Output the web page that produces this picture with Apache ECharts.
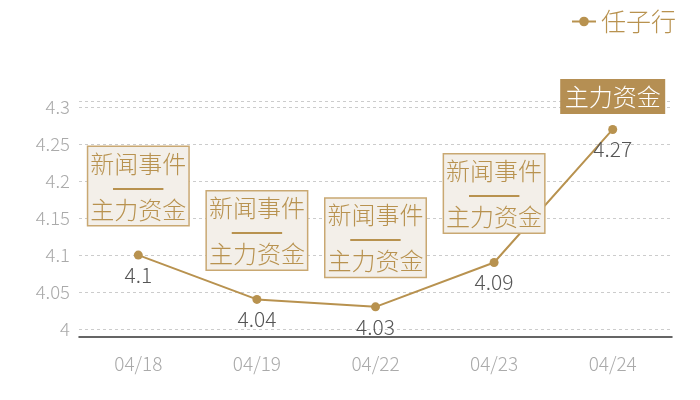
<!DOCTYPE html>
<html>
<head>
<meta charset="utf-8">
<script src="https://cdn.jsdelivr.net/npm/echarts@6/dist/echarts.min.js"></script>
<style>
  html, body { margin: 0; padding: 0; background: #fff; }
  #main { width: 700px; height: 400px; }
</style>
</head>
<body>
<div id="main"></div>
<script>
// 数据
var dates = ['04/18', '04/19', '04/22', '04/23', '04/24'];
var prices = [4.1, 4.04, 4.03, 4.09, 4.27];
var notes = ['新闻事件|主力资金', '新闻事件|主力资金', '新闻事件|主力资金', '新闻事件|主力资金', '主力资金'];
var seriesName = '任子行';

var gold = '#b8924f';
var font = 'Noto Sans CJK SC';

var myChart = echarts.init(document.getElementById('main'));

// 标注框
var marks = prices.map(function (v, i) {
    var parts = notes[i].split('|');
    var single = parts.length === 1;
    return {
        coord: [i, v],
        value: single ? parts[0] : '{t|' + parts[0] + '}\n{d|———}\n{t|' + parts[1] + '}',
        label: single ? {
            distance: 17,
            color: '#fff',
            backgroundColor: '#b58f53',
            borderColor: '#b58f53',
            padding: [5, 3, 4, 3]
        } : {}
    };
});

var option = {
    animation: false,
    textStyle: { fontFamily: font },
    legend: {
        right: 19,
        top: 4,
        itemWidth: 24,
        itemHeight: 12,
        itemGap: 6,
        data: [seriesName],
        textStyle: { color: gold, fontSize: 25, fontFamily: font, fontWeight: 300 }
    },
    grid: { left: 79, right: 28, top: 101, bottom: 71 },
    xAxis: {
        type: 'category',
        data: dates,
        offset: 8,
        axisLine: { lineStyle: { color: '#333', width: 1.5 } },
        axisTick: { show: false },
        axisLabel: { color: '#aaa', fontSize: 19, margin: 17, fontFamily: font, fontWeight: 300 }
    },
    yAxis: {
        type: 'value',
        min: 4,
        max: 4.3085,
        interval: 0.05,
        axisLine: { show: false },
        axisTick: { show: false },
        axisLabel: {
            color: '#aaa', fontSize: 18.5, margin: 9, fontFamily: font, fontWeight: 300,
            formatter: function (v) {
                if (Math.abs(v * 20 - Math.round(v * 20)) > 1e-6) return '';
                return String(Math.round(v * 100) / 100);
            }
        },
        splitLine: { lineStyle: { color: '#ccc', type: [3, 3] } }
    },
    series: [{
        name: seriesName,
        type: 'line',
        data: prices,
        symbol: 'circle',
        symbolSize: 9,
        itemStyle: { color: gold },
        lineStyle: { color: gold, width: 2 },
        label: {
            show: true,
            position: 'bottom',
            distance: 5,
            color: '#555',
            fontSize: 21,
            fontFamily: font,
            fontWeight: 300
        },
        markPoint: {
            symbol: 'circle',
            symbolSize: 0,
            data: marks,
            label: {
                show: true,
                position: 'top',
                distance: 30,
                formatter: '{c}',
                color: '#b8924f',
                fontSize: 24,
                lineHeight: 23,
                fontFamily: font,
                fontWeight: 300,
                backgroundColor: '#f3efe9',
                borderColor: '#c9a872',
                borderWidth: 1.5,
                padding: [5, 2, 4, 2],
                align: 'center',
                rich: {
                    t: { color: '#b8924f', fontSize: 24, lineHeight: 23, fontFamily: font, fontWeight: 300 },
                    d: { color: '#b8924f', fontSize: 21, lineHeight: 23, fontFamily: font, fontWeight: 'bold' }
                }
            }
        }
    }]
};

myChart.setOption(option);
</script>
</body>
</html>
